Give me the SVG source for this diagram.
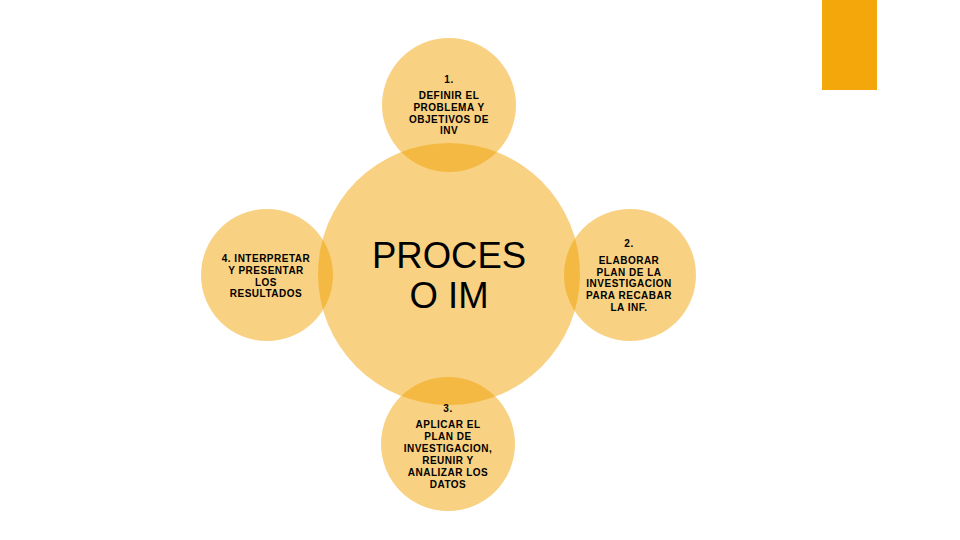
<svg xmlns="http://www.w3.org/2000/svg" width="960" height="540" viewBox="0 0 960 540">
<style>
.c{fill:#F0A200;fill-opacity:0.49}
.t{font-family:"Liberation Sans",Arial,sans-serif;font-size:10px;font-weight:bold;fill:#000;text-anchor:middle;letter-spacing:0.5px}
.big{font-family:"Liberation Sans",Arial,sans-serif;font-size:36.5px;fill:#000;text-anchor:middle}
</style>
<rect width="960" height="540" fill="#fff"/>
<rect x="822" y="0" width="55" height="90" fill="#F4A70B"/>
<g id="center"><circle class="c" cx="449" cy="274" r="131"/>
<text class="big" x="449" y="268">PROCES</text><text class="big" x="449" y="308">O IM</text></g>
<g id="n1"><circle class="c" cx="449" cy="105" r="67"/>
<text class="t" x="449" y="83">1.</text>
<text class="t" x="449" y="98.5">DEFINIR EL</text>
<text class="t" x="449" y="110.5">PROBLEMA Y</text>
<text class="t" x="449" y="122.5">OBJETIVOS DE</text>
<text class="t" x="449" y="134">INV</text></g>
<g id="n2"><circle class="c" cx="630" cy="275" r="66"/>
<text class="t" x="629" y="247">2.</text>
<text class="t" x="629" y="264">ELABORAR</text>
<text class="t" x="629" y="275.5">PLAN DE LA</text>
<text class="t" x="629" y="287">INVESTIGACION</text>
<text class="t" x="629" y="299">PARA RECABAR</text>
<text class="t" x="629" y="310.5">LA INF.</text></g>
<g id="n3"><circle class="c" cx="448" cy="444" r="67"/>
<text class="t" x="448" y="412">3.</text>
<text class="t" x="448" y="428">APLICAR EL</text>
<text class="t" x="448" y="440">PLAN DE</text>
<text class="t" x="448" y="451.5">INVESTIGACION,</text>
<text class="t" x="448" y="463.5">REUNIR Y</text>
<text class="t" x="448" y="475.5">ANALIZAR LOS</text>
<text class="t" x="448" y="487.5">DATOS</text></g>
<g id="n4"><circle class="c" cx="267" cy="275" r="66"/>
<text class="t" x="266" y="262">4. INTERPRETAR</text>
<text class="t" x="266" y="274">Y PRESENTAR</text>
<text class="t" x="266" y="285.5">LOS</text>
<text class="t" x="266" y="297">RESULTADOS</text></g>
<g id="connectors"></g>
</svg>
